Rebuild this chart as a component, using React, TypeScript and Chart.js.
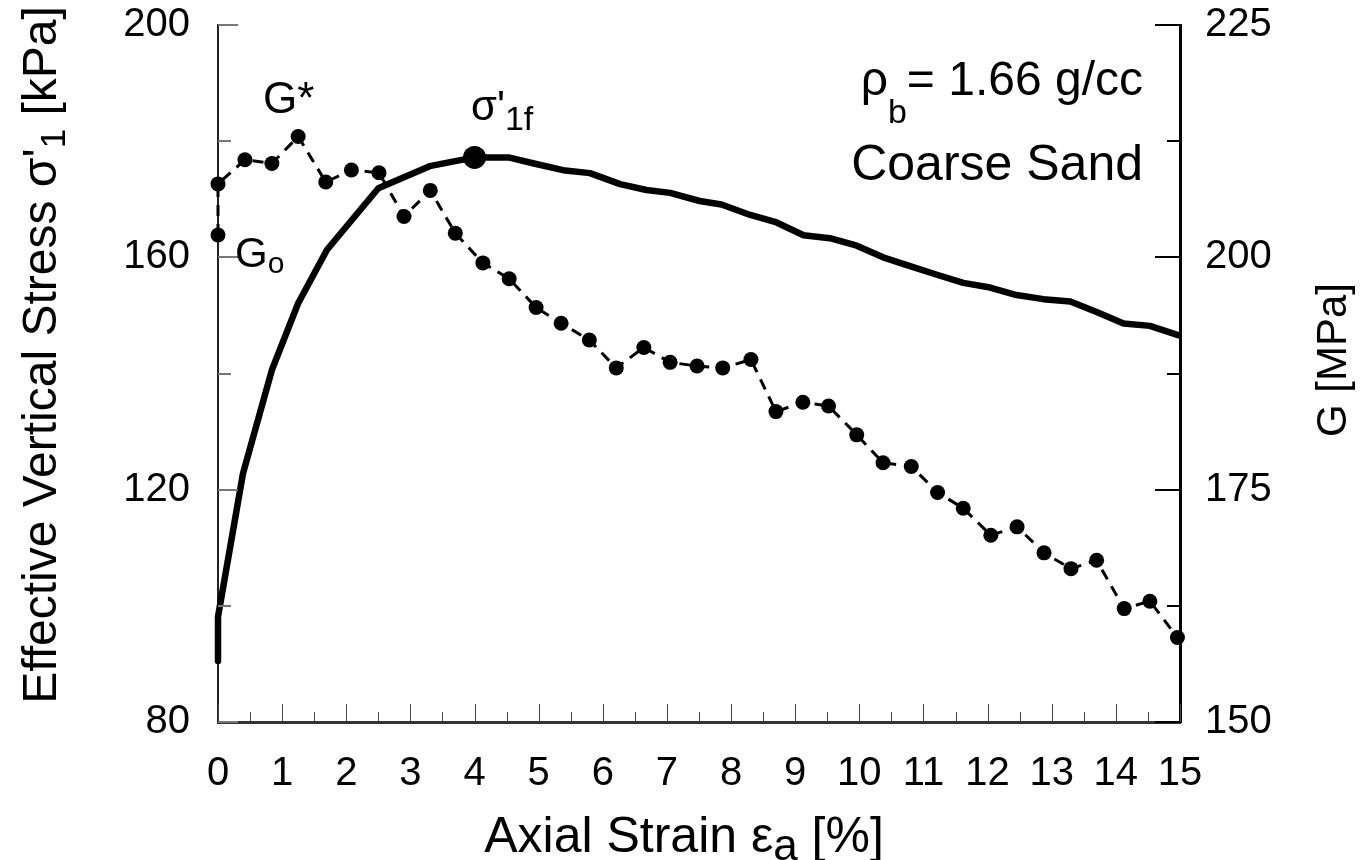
import React, { useEffect, useRef } from "react";
import { Chart, registerables } from "chart.js";

Chart.register(...registerables);

// ---- data ----
const stressStrain = [0, 0, 0.39, 0.84, 1.25, 1.7, 2.5, 3.3, 4.0, 4.53, 4.91, 5.38, 5.8, 6.27, 6.68, 7.05, 7.51, 7.85, 8.3, 8.71, 9.13, 9.54, 9.96, 10.37, 10.79, 11.21, 11.62, 12.04, 12.45, 12.87, 13.29, 13.7, 14.12, 14.53, 14.97];
const stressKPa = [90.5, 98.1, 122.8, 140.6, 152.1, 161.3, 171.9, 175.7, 177.2, 177.2, 176.2, 175.0, 174.5, 172.6, 171.6, 171.1, 169.7, 169.1, 167.3, 166.0, 163.8, 163.3, 162.0, 160.0, 158.5, 157.0, 155.6, 154.8, 153.5, 152.8, 152.4, 150.6, 148.6, 148.2, 146.6];

const gStrain = [0, 0, 0.42, 0.84, 1.25, 1.68, 2.08, 2.51, 2.9, 3.31, 3.7, 4.13, 4.54, 4.96, 5.35, 5.79, 6.21, 6.64, 7.05, 7.47, 7.87, 8.31, 8.7, 9.12, 9.52, 9.96, 10.37, 10.81, 11.22, 11.62, 12.05, 12.46, 12.88, 13.3, 13.7, 14.13, 14.53, 14.96];
const gMPa = [202.4, 207.9, 210.5, 210.1, 213.0, 208.1, 209.4, 209.1, 204.4, 207.2, 202.6, 199.4, 197.7, 194.6, 192.9, 191.1, 188.1, 190.3, 188.7, 188.3, 188.1, 189.0, 183.4, 184.4, 184.0, 180.9, 177.9, 177.5, 174.7, 173.0, 170.1, 171.0, 168.2, 166.5, 167.4, 162.2, 163.0, 159.1];

const peakStrain = [4.0];
const peakStress = [177.2];

const xTickLabels = [0, 1, 2, 3, 4, 5, 6, 7, 8, 9, 10, 11, 12, 13, 14, 15];
const leftTickLabels = [80, 120, 160, 200];
const rightTickLabels = [150, 175, 200, 225];

const FAMILY = "'Liberation Sans', Arial, Helvetica, sans-serif";

type Seg = { t: string; size: number; dy?: number };

function drawRich(ctx: CanvasRenderingContext2D, segs: Seg[], x: number, y: number, align: "left" | "center" | "right") {
  let total = 0;
  const widths = segs.map((s) => {
    ctx.font = `${s.size}px ${FAMILY}`;
    const w = ctx.measureText(s.t).width;
    total += w;
    return w;
  });
  let cx = align === "left" ? x : align === "center" ? x - total / 2 : x - total;
  ctx.textAlign = "left";
  ctx.textBaseline = "alphabetic";
  segs.forEach((s, i) => {
    ctx.font = `${s.size}px ${FAMILY}`;
    ctx.fillText(s.t, cx, y + (s.dy || 0));
    cx += widths[i];
  });
}

const decorPlugin = {
  id: "decor",
  afterDraw(chart: any) {
    const ctx: CanvasRenderingContext2D = chart.ctx;
    const { x, y, y1 } = chart.scales;
    const area = chart.chartArea;
    ctx.save();
    // x tick marks (inside, pointing up)
    ctx.strokeStyle = "#444";
    ctx.lineWidth = 1;
    for (let v = 0; v <= 15; v += 0.5) {
      const px = Math.round(x.getPixelForValue(v)) + 0.5;
      const len = Number.isInteger(v) ? 18 : 10;
      ctx.beginPath();
      ctx.moveTo(px, area.bottom);
      ctx.lineTo(px, area.bottom - len);
      ctx.stroke();
    }
    // left tick marks
    ctx.strokeStyle = "#777";
    ctx.lineWidth = 2;
    for (let v = 80; v <= 200; v += 20) {
      const py = Math.round(y.getPixelForValue(v));
      const len = (v - 80) % 40 === 0 ? 20 : 13;
      ctx.beginPath();
      ctx.moveTo(area.left, py);
      ctx.lineTo(area.left + len, py);
      ctx.stroke();
    }
    // right tick marks
    ctx.strokeStyle = "#000";
    ctx.lineWidth = 2;
    for (let v = 150; v <= 225; v += 12.5) {
      const py = Math.round(y1.getPixelForValue(v));
      const len = (v - 150) % 25 === 0 ? 25 : 13;
      ctx.beginPath();
      ctx.moveTo(area.right, py);
      ctx.lineTo(area.right - len, py);
      ctx.stroke();
    }

    ctx.fillStyle = "#000";
    // annotations
    drawRich(ctx, [{ t: "G*", size: 44 }], 263, 113, "left");
    drawRich(ctx, [{ t: "G", size: 42 }, { t: "o", size: 30, dy: 6 }], 235, 267, "left");
    drawRich(ctx, [{ t: "σ'", size: 42 }, { t: "1f", size: 34, dy: 10 }], 471, 120, "left");
    drawRich(ctx, [{ t: "ρ", size: 48 }, { t: "b", size: 34, dy: 28 }, { t: "= 1.66 g/cc", size: 48 }], 1143, 95, "right");
    drawRich(ctx, [{ t: "Coarse Sand", size: 50 }], 1143, 180, "right");

    // axis titles
    drawRich(ctx, [{ t: "Axial Strain ε", size: 50 }, { t: "a", size: 44, dy: 8 }, { t: " [%]", size: 50 }], 684, 852, "center");

    ctx.save();
    ctx.translate(56, 355);
    ctx.rotate(-Math.PI / 2);
    drawRich(ctx, [{ t: "Effective Vertical Stress σ'", size: 48 }, { t: "1", size: 35, dy: 9 }, { t: " [kPa]", size: 48 }], 0, 0, "center");
    ctx.restore();

    ctx.save();
    ctx.translate(1346, 360);
    ctx.rotate(-Math.PI / 2);
    drawRich(ctx, [{ t: "G [MPa]", size: 42 }], 0, 0, "center");
    ctx.restore();

    ctx.restore();
  },
};

const noPad = (s: any) => {
  s.paddingTop = 0;
  s.paddingBottom = 0;
  s.paddingLeft = 0;
  s.paddingRight = 0;
};

export default function App() {
  const ref = useRef<HTMLCanvasElement | null>(null);

  useEffect(() => {
    if (!ref.current) return;
    const tickFont = { family: FAMILY, size: 40 };
    const chart = new Chart(ref.current, {
      type: "line",
      data: {
        datasets: [
          {
            label: "G",
            data: gStrain.map((s, i) => ({ x: s, y: gMPa[i] })),
            yAxisID: "y1",
            borderColor: "#000",
            borderWidth: 3,
            borderDash: [11, 8],
            pointRadius: 7.5,
            pointBackgroundColor: "#000",
            pointBorderWidth: 0,
            tension: 0,
            clip: false as any,
          },
          {
            label: "stress",
            data: stressStrain.map((s, i) => ({ x: s, y: stressKPa[i] })),
            yAxisID: "y",
            borderColor: "#000",
            borderWidth: 6.5,
            borderJoinStyle: "round",
            borderCapStyle: "round",
            pointRadius: 0,
            tension: 0,
            clip: false as any,
          },
          {
            label: "peak",
            data: peakStrain.map((s, i) => ({ x: s, y: peakStress[i] })),
            yAxisID: "y",
            showLine: false,
            pointRadius: 11.5,
            pointBackgroundColor: "#000",
            pointBorderWidth: 0,
            clip: false as any,
          },
        ],
      },
      options: {
        animation: false,
        responsive: false,
        devicePixelRatio: 1,
        layout: { padding: { top: 25, left: 0, right: 0, bottom: 0 } },
        plugins: { legend: { display: false }, tooltip: { enabled: false } },
        scales: {
          x: {
            type: "linear",
            min: 0,
            max: 15,
            afterBuildTicks: (s: any) => {
              s.ticks = xTickLabels.map((v) => ({ value: v }));
            },
            afterFit: (s: any) => {
              s.height = 138;
              noPad(s);
            },
            ticks: { font: tickFont, color: "#000", padding: 28, maxRotation: 0, autoSkip: false },
            grid: { display: false, drawTicks: false },
            border: { display: true, color: "#333", width: 3 },
          },
          y: {
            type: "linear",
            position: "left",
            min: 80,
            max: 200,
            afterBuildTicks: (s: any) => {
              s.ticks = leftTickLabels.map((v) => ({ value: v }));
            },
            afterFit: (s: any) => {
              s.width = 218;
              noPad(s);
            },
            ticks: { font: tickFont, color: "#000", padding: 28 },
            grid: { display: false, drawTicks: false },
            border: { display: true, color: "#222", width: 2 },
          },
          y1: {
            type: "linear",
            position: "right",
            min: 150,
            max: 225,
            afterBuildTicks: (s: any) => {
              s.ticks = rightTickLabels.map((v) => ({ value: v }));
            },
            afterFit: (s: any) => {
              s.width = 181;
              noPad(s);
            },
            ticks: { font: tickFont, color: "#000", padding: 25 },
            grid: { display: false, drawTicks: false },
            border: { display: true, color: "#000", width: 3 },
          },
        },
      },
      plugins: [decorPlugin],
    } as any);
    return () => chart.destroy();
  }, []);

  return (
    <div style={{ position: "fixed", left: 0, top: 0, width: 1361, height: 860, background: "#fff" }}>
      <canvas ref={ref} width={1361} height={860} style={{ width: 1361, height: 860, display: "block" }} />
    </div>
  );
}
